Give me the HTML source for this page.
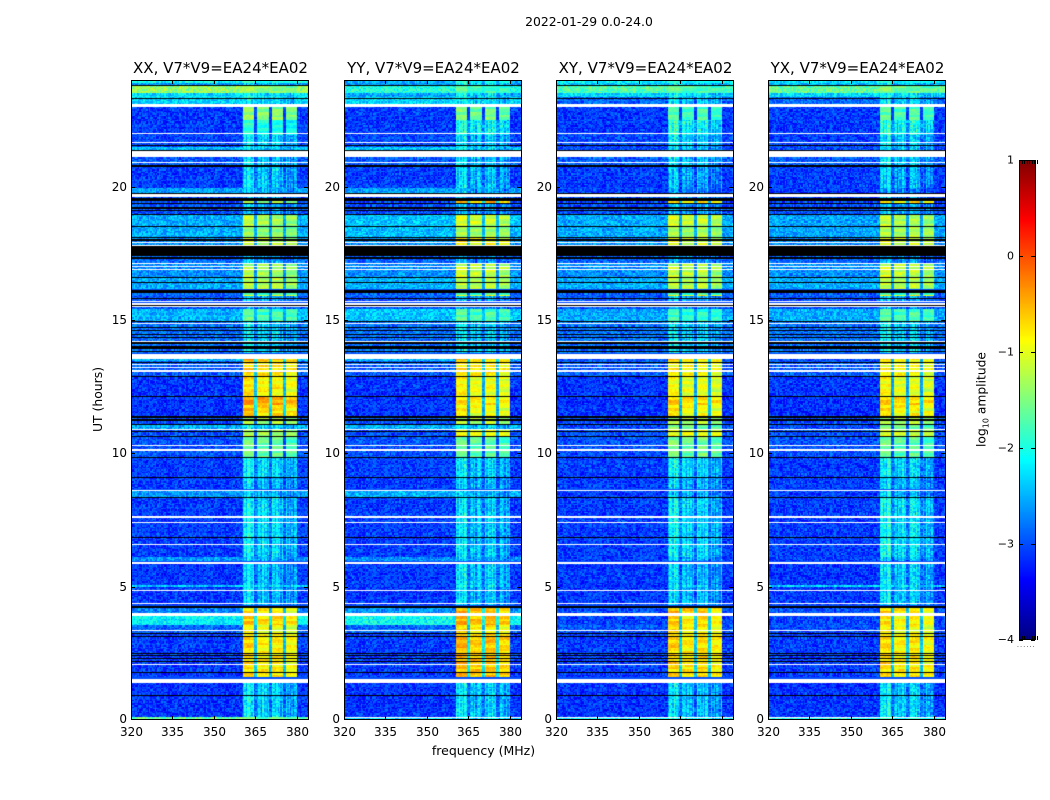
<!DOCTYPE html>
<html lang="en">
<head>
<meta charset="utf-8">
<title>2022-01-29 0.0-24.0</title>
<style>
html,body{margin:0;padding:0;background:#fff;}
#figure{position:relative;width:1050px;height:800px;overflow:hidden;background:#fff;font-family:"DejaVu Sans","Liberation Sans",sans-serif;}
canvas{position:absolute;display:block;}
#overlay{position:absolute;left:0;top:0;}
#overlay text{font-family:"DejaVu Sans","Liberation Sans",sans-serif;fill:#000;}
</style>
</head>
<body>
<div id="figure">
  <svg id="overlay" width="1050" height="800" viewBox="0 0 1050 800">
    <text x="589" y="26" text-anchor="middle" font-size="12.4">2022-01-29 0.0-24.0</text>
    <text x="483.5" y="755" text-anchor="middle" font-size="12.5">frequency (MHz)</text>
    <text transform="translate(102 399.5) rotate(-90)" text-anchor="middle" font-size="12.4">UT (hours)</text>
    <text transform="translate(985.5 399.5) rotate(-90)" text-anchor="middle" font-size="12.3">log<tspan font-size="8" dy="3">10</tspan><tspan dy="-3"> amplitude</tspan></text>
    <text x="1017" y="647" font-size="6" letter-spacing="1.2" fill="#777">......</text>
  </svg>
</div>
<script>
// ---------- chart data ----------
const panelNames = ['XX', 'YY', 'XY', 'YX'];
const panelTitleSuffix = ', V7*V9=EA24*EA02';
const frequencyTicks = [320, 335, 350, 365, 380];
const timeTicks = [0, 5, 10, 15, 20];
const colorbarTicks = [1, 0, -1, -2, -3, -4];
const colorbarTickLabels = ['1', '0', '\u22121', '\u22122', '\u22123', '\u22124'];
const colorbarMinorTicks = [-0.5, 0, 0.5, 1, 1.5, 2, 2.5];

// Lit receiver band and the gaps between its sub-bands (MHz)
const subbandEdges = [360.5, 365.2, 370.4, 375.5, 380];
const subbandGain = [0.1, -0.02, 0.02, -0.1];
const notchCentres = [365.2, 370.4, 375.5];

// Time segments [top UT, bottom UT]; the next two arrays follow the same order
const timeSegmentsUT = [
[24,23.89],[23.89,23.78],[23.78,23.51],[23.51,23.33],[23.33,23.1],
[23,22.5],[22.5,21.96],[21.96,21.52],[21.52,21.34],[21.11,20.74],
[20.74,19.95],[19.95,19.73],[19.61,19.44],[19.44,19.39],[19.39,18.94],
[18.94,18.53],[18.53,18.11],[18.11,17.81],[17.81,17.74],[17.4,17.14],
[17.14,16.61],[16.61,16.13],[16.03,15.96],[15.96,15.88],[15.88,15.71],
[15.49,15.41],[15.41,14.96],[14.96,13.73],[13.54,13.43],[13.43,12.9],
[12.9,12.15],[12.15,11.78],[11.78,11.4],[11.4,11.06],[11.06,10.875],[10.875,10.61],
[10.61,9.86],[9.86,9.11],[9.11,8.63],[8.58,8.36],[8.36,6.08],
[6.08,5.93],[5.86,5.03],[5.03,4.99],[4.99,4.28],[4.21,4.01],
[3.9,3.53],[3.53,3.23],[3.23,1.58],[1.39,0.11],[0.11,0]
];
// log10 amplitude outside the lit band, per panel XX, YY, XY, YX
const backgroundLevels = [
[-2.1,-2.5,-2.2,-2.2],[-2.6,-2.7,-2.4,-2.4],[-1.4,-2,-1.75,-1.65],[-2.3,-2.6,-2.3,-2.3],[-2.35,-2.3,-2.9,-2.9],
[-3.12,-3.12,-3.12,-3.12],[-3.12,-3.12,-3.12,-3.12],[-3.05,-3.05,-3.05,-3.05],[-2.45,-2.4,-3,-3],[-2.95,-2.95,-2.95,-2.95],
[-3.1,-3.1,-3.1,-3.1],[-2.6,-2.6,-3.1,-3.1],[-3.05,-3.05,-3.05,-3.05],[-3.05,-3.05,-3.05,-3.05],[-3,-3,-3,-3],
[-2.55,-2.45,-2.55,-2.6],[-2.55,-2.45,-2.55,-2.6],[-2.7,-2.7,-2.7,-2.7],[-2.7,-2.7,-2.7,-2.7],[-2.9,-2.9,-2.9,-2.9],
[-2.7,-2.7,-2.7,-2.7],[-2.55,-2.5,-2.55,-2.55],[-2.9,-2.9,-2.9,-2.9],[-2.9,-2.9,-2.9,-2.9],[-3,-3,-3,-3],
[-3,-3,-3,-3],[-2.5,-2.4,-2.55,-2.55],[-2.85,-2.85,-2.85,-2.85],[-2.5,-2.5,-3,-3],[-2.95,-2.95,-2.95,-2.95],
[-3.15,-3.15,-3.15,-3.15],[-3.15,-3.15,-3.15,-3.15],[-3.15,-3.15,-3.15,-3.15],[-3,-3,-3,-3],[-2.55,-2.5,-3.05,-3.05],[-3,-3,-3,-3],
[-3,-3,-3,-3],[-3.1,-3.1,-3.1,-3.1],[-3.1,-3.1,-3.1,-3.1],[-2.65,-2.55,-3.1,-3.1],[-3.1,-3.1,-3.1,-3.1],
[-2.65,-2.65,-3.1,-3.1],[-3.12,-3.12,-3.12,-3.12],[-2.4,-3.1,-3.1,-2.3],[-3.12,-3.12,-3.12,-3.12],[-2.75,-2.65,-3,-3],
[-2.2,-2.1,-3.05,-3.05],[-2.9,-2.9,-3,-3],[-3.1,-3.1,-3.1,-3.1],[-3.15,-3.15,-3.15,-3.15],[-1.6,-2.3,-2.2,-2]
];
// log10 amplitude inside the lit band, per panel XX, YY, XY, YX
const subbandLevels = [
[-2,-2.1,-2.1,-2.1],[-2.5,-2.3,-2.4,-2.4],[-1.45,-1.8,-1.75,-1.6],[-2.3,-2.3,-2.3,-2.3],[-2.35,-2.3,-2.4,-2.4],
[-1.45,-1.6,-1.8,-1.75],[-2,-2.15,-2.15,-2.15],[-2.4,-2.45,-2.4,-2.4],[-2.4,-2.35,-2.45,-2.45],[-2.45,-2.45,-2.45,-2.45],
[-2.45,-2.45,-2.6,-2.55],[-2.6,-2.6,-2.8,-2.8],[-2.7,-2.7,-2.7,-2.7],[-1.4,-0.6,-0.8,-0.8],[-2.6,-2.6,-2.6,-2.6],
[-1.3,-1.15,-1.15,-1.3],[-1.45,-1.35,-1.35,-1.3],[-1.2,-0.9,-1.1,-1.1],[-0.4,-0.4,-0.5,-0.6],[-2.7,-2.7,-2.7,-2.7],
[-1.35,-1.2,-1.25,-1.2],[-1.25,-1.25,-1.25,-1.25],[-1.8,-1.8,-1.8,-1.8],[-1,-0.9,-0.8,-0.85],[-2.6,-2.6,-2.6,-2.6],
[-2.8,-2.8,-2.8,-2.8],[-1.75,-1.75,-1.9,-1.75],[-2.4,-2.4,-2.4,-2.4],[-0.55,-0.7,-0.75,-0.85],[-0.75,-0.8,-0.9,-0.9],
[-0.85,-0.95,-1,-1],[-0.45,-0.8,-0.7,-0.7],[-0.7,-0.95,-0.9,-0.85],[-1.3,-1.3,-1.3,-1.3],[-2.4,-2.35,-1.6,-1.6],[-1.3,-0.9,-0.95,-1.1],
[-1.65,-1.7,-1.6,-1.7],[-2.35,-2.4,-2.35,-2.35],[-2.5,-2.5,-2.5,-2.5],[-2.55,-2.55,-2.55,-2.55],[-2.35,-2.4,-2.35,-2.3],
[-2.55,-2.55,-2.55,-2.55],[-2.5,-2.4,-2.5,-2.4],[-2.25,-2.25,-2.25,-2.25],[-2.5,-2.45,-2.5,-2.45],[-0.85,-0.6,-0.65,-0.8],
[-0.7,-0.55,-0.75,-0.85],[-1,-0.85,-0.85,-0.95],[-0.8,-0.6,-0.75,-0.8],[-2.4,-2.4,-2.45,-2.4],[-1.6,-2.3,-2.2,-2]
];
// Flagged (blank, drawn white) time ranges, UT
const flaggedUT = [
[23.1,22.99],[22.005,21.96],[21.675,21.63],[21.34,21.11],[20.925,20.87],[19.725,19.61],[17.91,17.87],[17.82,17.775],
[17.14,17.09],[17.03,16.99],[16.93,16.89],[15.71,15.67],[15.62,15.58],[15.54,15.49],[14.89,14.85],[14.21,14.175],
[13.725,13.54],[13.35,13.305],[13.24,13.19],[13.11,13.06],[10.91,10.875],[10.31,10.27],[10.145,10.105],[8.625,8.575],
[7.65,7.575],[7.425,7.38],[6.6,6.555],[5.935,5.86],[4.875,4.83],[4.39,4.35],[4.01,3.9],[3.375,3.33],
[2.1,2.055],[1.55,1.39]
];
// Extra flagged row near 0 UT in the last three panels
const flaggedLowRowUT = [null, [0.11,0.07], [0.11,0.07], [0.11,0.07]];
// Zero-amplitude (drawn black) time ranges, UT
const zeroUT = [
[23.81,23.775],[23.325,23.29],[21.56,21.525],[21.375,21.34],[20.83,20.72],[19.76,19.725],[19.56,19.46],[19.39,19.35],
[19.24,19.16],[19.11,19.07],[18.99,18.94],[18.54,18.51],[18.11,18.075],[18.02,17.98],[17.76,17.4],[17.38,17.29],
[16.61,16.575],[16.425,16.39],[16.125,16.03],[15.84,15.81],[15.58,15.54],[14.96,14.925],[14.74,14.7],[14.625,14.59],
[14.49,14.46],[14.36,14.31],[14.175,14.1],[14.03,13.93],[13.84,13.8],[13.425,13.39],[12.9,12.86],[12.15,12.11],
[11.4,11.34],[11.29,11.23],[11.1,11.06],[10.84,10.8],[10.65,10.6],[9.86,9.825],[9.11,9.075],[8.36,8.325],
[6.86,6.825],[4.275,4.21],[3.26,3.225],[3.15,3.11],[2.53,2.49],[2.43,2.39],[2.325,2.29],[2.22,2.19],
[1.8,1.76],[0.94,0.9]
];
// Hand-typed grain tile (log10 offsets) giving the heatmap its speckled texture
const speckleTile = [
0.12,-0.22,0.31,-0.05,0.18,-0.3,0.04,0.26,-0.14,0.09,-0.27,0.35,-0.1,0.02,0.21,-0.19,0.14,-0.34,0.07,0.28,
-0.08,-0.24,0.17,0.38,-0.16,0.01,-0.29,0.23,0.1,-0.12,0.32,-0.21,-0.03,0.15,-0.36,0.06,0.25,-0.18,0.11,-0.07,0.2
];
// Hand-typed horizontal striping inside the lit band (log10 offsets)
const bandStriping = [0.08,-0.12,0.05,0.14,-0.06,-0.18,0.1,0.02,-0.14,0.17,-0.04,0.06,-0.2,0.12,0.03,-0.09,0.15,-0.02,-0.15];
// Hand-typed vertical streaks in the dim parts of the lit band (log10 offsets)
const bandStreaks = [0.2,0.05,-0.15,0.25,-0.1,0.1,-0.25,0.15,0,-0.2,0.3,-0.05,0.12,-0.18,0.08,-0.3,0.18];

// ---------- axes geometry ----------
const axesLefts = [131, 344, 556, 768];
const axesWidth = 177, axesTop = 80, axesHeight = 640;
const freqMin = 320, freqMax = 384, utMin = 0, utMax = 24;
const freqStep = 0.5, utStep = 0.05;
const cbarLeft = 1019, cbarWidth = 16, cbarTop = 160, cbarHeight = 480;
const levelMin = -4, levelMax = 1;
const dimBandLimit = -2.1;
const xScale = f => (f - freqMin) / (freqMax - freqMin) * axesWidth;
const yScale = ut => (utMax - ut) / (utMax - utMin) * axesHeight;
const cbarScale = v => cbarTop + (levelMax - v) / (levelMax - levelMin) * cbarHeight;

function jet(v) {
  const t = Math.min(1, Math.max(0, (v - levelMin) / (levelMax - levelMin)));
  const c = x => Math.round(255 * Math.min(1, Math.max(0, x)));
  return 'rgb(' + c(Math.min(4*t-1.5, -4*t+4.5)) + ',' + c(Math.min(4*t-0.5, -4*t+3.5)) + ',' + c(Math.min(4*t+0.5, -4*t+2.5)) + ')';
}
function levelAt(freq, segIndex, panel, row, col) {
  const bg = backgroundLevels[segIndex][panel];
  const band = subbandLevels[segIndex][panel];
  if (freq < subbandEdges[0] || freq >= subbandEdges[subbandEdges.length - 1]) return {v: bg, grain: 1};
  const dim = band < dimBandLimit;
  for (let n = 0; n < notchCentres.length; n++) {
    if (Math.abs(freq - notchCentres[n]) < 0.45) return {v: dim ? Math.max(bg, band - 0.45) : Math.max(bg, band - 1.6), grain: dim ? 1 : 0.5};
  }
  let k = 0;
  while (freq >= subbandEdges[k + 1]) k++;
  const stripe = bandStriping[(Math.floor(row / 2) + k) % bandStriping.length];
  if (dim) {
    const streak = bandStreaks[(col + panel * 5) % bandStreaks.length];
    return {v: band + subbandGain[k] * 2 + streak, grain: 1};
  }
  return {v: band + subbandGain[k] + stripe, grain: 0.4};
}
function segmentAt(ut) {
  for (let i = 0; i < timeSegmentsUT.length; i++) {
    if (ut <= timeSegmentsUT[i][0] && ut > timeSegmentsUT[i][1]) return i;
  }
  return -1;
}
function fillTimeRange(ctx, range, colour) {
  const y0 = Math.round(yScale(range[0]));
  const y1 = Math.max(y0 + 1, Math.round(yScale(range[1])));
  ctx.fillStyle = colour;
  ctx.fillRect(0, y0, axesWidth, y1 - y0);
}

const figure = document.getElementById('figure');
const overlay = document.getElementById('overlay');
const NS = 'http://www.w3.org/2000/svg';

function addLine(x1, y1, x2, y2, name) {
  const el = document.createElementNS(NS, 'line');
  el.setAttribute('x1', x1);
  el.setAttribute('y1', y1);
  el.setAttribute('x2', x2);
  el.setAttribute('y2', y2);
  el.setAttribute('stroke', '#000');
  el.setAttribute('stroke-width', '1');
  
  
  overlay.appendChild(el);
}
function addText(x, y, str, anchor, size, name) {
  const el = document.createElementNS(NS, 'text');
  el.setAttribute('x', x);
  el.setAttribute('y', y);
  el.setAttribute('text-anchor', anchor);
  el.setAttribute('font-size', size);
  
  
  el.textContent = str;
  overlay.appendChild(el);
}
function addFrame(x, y, w, h, name) {
  const el = document.createElementNS(NS, 'rect');
  el.setAttribute('x', x + 0.5);
  el.setAttribute('y', y + 0.5);
  el.setAttribute('width', w);
  el.setAttribute('height', h - 1);
  el.setAttribute('fill', 'none');
  el.setAttribute('stroke', '#000');
  el.setAttribute('stroke-width', '1');
  
  
  overlay.appendChild(el);
}

// ---------- heatmap panels ----------
panelNames.forEach(function (pol, p) {
  const left = axesLefts[p];
  const key = pol.toLowerCase();
  const canvas = document.createElement('canvas');
  
  
  canvas.width = axesWidth;
  canvas.height = axesHeight;
  canvas.style.left = left + 'px';
  canvas.style.top = axesTop + 'px';
  figure.insertBefore(canvas, overlay);
  const ctx = canvas.getContext('2d');
  ctx.fillStyle = jet(-3);
  ctx.fillRect(0, 0, axesWidth, axesHeight);

  const cols = Math.round((freqMax - freqMin) / freqStep);
  const rows = Math.round((utMax - utMin) / utStep);
  for (let r = 0; r < rows; r++) {
    const utTop = utMax - r * utStep;
    const seg = segmentAt(utTop - utStep / 2);
    if (seg < 0) continue;
    const y0 = Math.round(yScale(utTop));
    const y1 = Math.round(yScale(utTop - utStep));
    for (let c = 0; c < cols; c++) {
      const f = freqMin + c * freqStep;
      const cell = levelAt(f + freqStep / 2, seg, p, r, c);
      const grainIndex = (c * c * 7 + r * r * 3 + c * r * 5 + c * 13 + r * 19 + p * 11) % speckleTile.length;
      const x0 = Math.round(xScale(f));
      const x1 = Math.round(xScale(f + freqStep));
      ctx.fillStyle = jet(cell.v + speckleTile[grainIndex] * cell.grain);
      ctx.fillRect(x0, y0, x1 - x0, y1 - y0);
    }
  }
  flaggedUT.forEach(function (range) { fillTimeRange(ctx, range, '#fff'); });
  if (flaggedLowRowUT[p]) fillTimeRange(ctx, flaggedLowRowUT[p], '#fff');
  zeroUT.forEach(function (range) { fillTimeRange(ctx, range, '#000'); });

  addFrame(left, axesTop, axesWidth, axesHeight, 'axes-frame-' + key);
  addText(left + axesWidth / 2 + 1, 73, pol + panelTitleSuffix, 'middle', 15, 'panel-title-' + key);

  frequencyTicks.forEach(function (f) {
    const x = Math.round(left + xScale(f)) + 0.5;
    addLine(x, axesTop + axesHeight, x, axesTop + axesHeight - 4, 'x-tick-bottom-' + key + '-' + f);
    addLine(x, axesTop, x, axesTop + 4, 'x-tick-top-' + key + '-' + f);
    addText(x, axesTop + axesHeight + 16, String(f), 'middle', 12, 'x-tick-label-' + key + '-' + f);
  });
  timeTicks.forEach(function (ut) {
    const y = Math.min(axesTop + axesHeight - 0.5, Math.round(axesTop + yScale(ut)) + 0.5);
    addLine(left, y, left + 4, y, 'y-tick-left-' + key + '-' + ut);
    addLine(left + axesWidth, y, left + axesWidth - 4, y, 'y-tick-right-' + key + '-' + ut);
    addText(left - 4, y + 3.5, String(ut), 'end', 12, 'y-tick-label-' + key + '-' + ut);
  });
});

// ---------- colorbar ----------
const cbar = document.createElement('canvas');


cbar.width = cbarWidth;
cbar.height = cbarHeight;
cbar.style.left = cbarLeft + 'px';
cbar.style.top = cbarTop + 'px';
figure.insertBefore(cbar, overlay);
const cctx = cbar.getContext('2d');
for (let y = 0; y < cbarHeight; y++) {
  cctx.fillStyle = jet(levelMax - (y + 0.5) / cbarHeight * (levelMax - levelMin));
  cctx.fillRect(0, y, cbarWidth, 1);
}
addFrame(cbarLeft, cbarTop, cbarWidth, cbarHeight, 'colorbar-frame');
colorbarTicks.forEach(function (v, i) {
  const y = Math.round(cbarScale(v)) + 0.5;
  addLine(cbarLeft, y, cbarLeft + 4, y, 'colorbar-tick-left-' + v);
  addLine(cbarLeft + cbarWidth, y, cbarLeft + cbarWidth - 4, y, 'colorbar-tick-right-' + v);
  addText(cbarLeft - 5, Math.min(y, 640) + 3, colorbarTickLabels[i], 'end', 11, 'colorbar-tick-label-' + v);
});
colorbarMinorTicks.forEach(function (m) {
  const x = cbarLeft + Math.round((m + 1) * 5) + 0.5;
  addLine(x, cbarTop, x, cbarTop + 4, 'colorbar-minor-tick-top');
  addLine(x, cbarTop + cbarHeight, x, cbarTop + cbarHeight - 4, 'colorbar-minor-tick-bottom');
});
</script>
</body>
</html>
